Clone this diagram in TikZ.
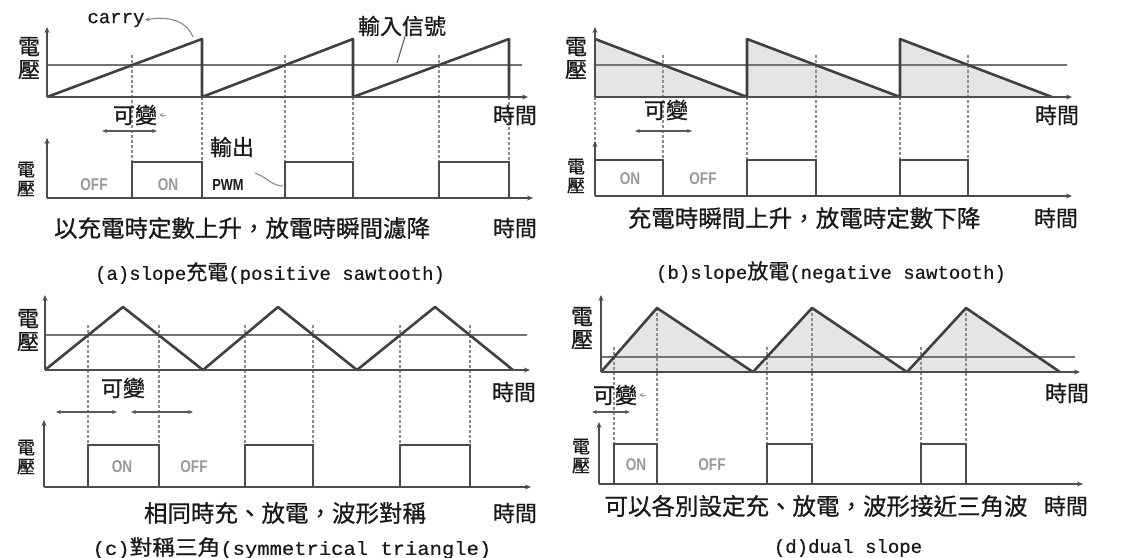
\documentclass[tikz,border=0pt]{standalone}
\usepackage{fontspec}
\setmainfont{Liberation Sans}
\newfontfamily\cjk{Noto Sans CJK TC}[FakeBold=0.7]
\newfontfamily\monof{Liberation Mono}[FakeBold=0.4]
\newcommand\subcjk[1]{{\cjk\fontsize{21}{19}\selectfont #1}}
\usetikzlibrary{arrows.meta}
\tikzset{
  wave/.style={line width=2.6pt, draw=black!75, line join=round},
  sig/.style={line width=2pt, draw=black!55},
  axisline/.style={line width=2pt, draw=black!70, -{Stealth[length=6pt,width=5pt]}},
  guide/.style={line width=1.5pt, draw=black!45, dash pattern=on 2.5pt off 2.5pt},
  pulse/.style={line width=2pt, draw=black!70, line join=miter},
  shadefill/.style={fill=black!10},
  spanarrow/.style={line width=1.2pt, draw=black!65, {Stealth[length=5pt,width=4pt]}-{Stealth[length=5pt,width=4pt]}},
  pointer/.style={line width=1pt, draw=black!50, -{Stealth[length=5pt,width=4pt]}},
  lbl/.style={inner sep=0pt, text=black!90, font=\cjk\fontsize{22}{22}\selectfont},
  captext/.style={inner sep=0pt, text=black!90, font=\cjk\fontsize{23.5}{24}\selectfont},
  ylbl/.style={inner sep=0pt, align=center, text=black!90, font=\cjk\fontsize{22}{23}\selectfont},
  ylbls/.style={inner sep=0pt, align=center, text=black!90, font=\cjk\fontsize{18}{19}\selectfont},
  subcap/.style={inner sep=0pt, text=black!90, font=\monof\fontsize{19}{19}\selectfont},
  onoff/.style={inner sep=0pt, text=black!40, font=\bfseries\fontsize{17}{17}\selectfont},
}
\begin{document}
\begin{tikzpicture}[x=1pt,y=-1pt]
\fill[white] (0,0) rectangle (1145,557);
\useasboundingbox (0,0) rectangle (1145,557);

% ===================== (a) positive sawtooth =====================
\foreach \x/\y in {132/55,202/97,285/55,353/97,439/55,509/97}
  \draw[guide] (\x,\y) -- (\x,162);
\draw[sig] (47,65) -- (522,65);
\draw[wave] (47,97) -- (202,39) -- (202,97) -- (353,39) -- (353,97) -- (509,39) -- (509,97);
\draw[axisline] (47,97) -- (47,27);
\draw[axisline] (47,97) -- (528,97);
\draw[pulse] (132,198) -- (132,162) -- (202,162) -- (202,198);
\draw[pulse] (285,198) -- (285,162) -- (353,162) -- (353,198);
\draw[pulse] (439,198) -- (439,162) -- (509,162) -- (509,198);
\draw[axisline] (47,198) -- (47,138);
\draw[axisline] (47,198) -- (533,198);
\node[ylbl] (aV1) at (29,58) {電\\壓};
\node[ylbls] (aV2) at (26,179) {電\\壓};
\node[subcap] (carry) at (116,20) {carry};
\coordinate (aPeak) at (193,37);
\draw[pointer] (aPeak) .. controls (188,24) and (174,15) .. (carry.east);
\node[lbl] (aIn) at (402,26) {輸入信號};
\coordinate (aInTip) at (397,63);
\draw[line width=1.2pt, black!60] ([xshift=3pt]aIn.south) -- (aInTip);
\node[lbl] (aT1) at (515,115) {時間};
\node[lbl] (aVar) at (135,115) {可變};
\draw[-{Stealth[length=4pt,width=4pt]}, black!40, line width=0.8pt] ([xshift=9pt]aVar.east) -- ([xshift=2pt]aVar.east);
\draw[spanarrow] (102,131) -- (157,131);
\node[lbl] (aOut) at (232,147) {輸出};
\node[inner sep=0pt, text=black!90, font=\bfseries\fontsize{16}{16}\selectfont] (aPwm) at (228,185) {\scalebox{0.8}[1]{PWM}};
\coordinate (aPwmTip) at (283,186);
\draw[line width=1pt, black!50] (255,173) .. controls (268,178) and (272,186) .. (aPwmTip);
\node[onoff] (aOff) at (94,185) {\scalebox{0.8}[1]{OFF}};
\node[onoff] (aOn) at (168,185) {\scalebox{0.8}[1]{ON}};
\node[captext] (aCap) at (242,228) {以充電時定數上升，放電時瞬間濾降};
\node[lbl] (aT2) at (515,228) {時間};
\node[subcap] (aSub) at (270,273) {(a)slope\subcjk{充電}(positive sawtooth)};

% ===================== (b) negative sawtooth =====================
\fill[shadefill] (595,39) -- (747,97) -- (595,97) -- cycle;
\fill[shadefill] (747,39) -- (900,97) -- (747,97) -- cycle;
\fill[shadefill] (900,39) -- (1052,97) -- (900,97) -- cycle;
\foreach \x/\y in {595/97,663/55,747/97,816/55,900/97,968/55}
  \draw[guide] (\x,\y) -- (\x,160);
\draw[sig] (595,65) -- (1067,65);
\draw[wave] (595,39) -- (747,97) -- (747,39) -- (900,97) -- (900,39) -- (1052,97);
\draw[axisline] (595,97) -- (595,27);
\draw[axisline] (595,97) -- (1072,97);
\draw[pulse] (595,160) -- (663,160) -- (663,196);
\draw[pulse] (747,196) -- (747,160) -- (816,160) -- (816,196);
\draw[pulse] (900,196) -- (900,160) -- (968,160) -- (968,196);
\draw[axisline] (595,196) -- (595,141);
\draw[axisline] (595,196) -- (1072,196);
\node[ylbl] (bV1) at (576,58) {電\\壓};
\node[ylbls] (bV2) at (576,176) {電\\壓};
\node[lbl] (bT1) at (1057,115) {時間};
\node[lbl] (bVar) at (666,110) {可變};
\draw[spanarrow] (635,131) -- (692,131);
\node[onoff] (bOn) at (630,179) {\scalebox{0.8}[1]{ON}};
\node[onoff] (bOff) at (703,179) {\scalebox{0.8}[1]{OFF}};
\node[captext] (bCap) at (804,218) {充電時瞬間上升，放電時定數下降};
\node[lbl] (bT2) at (1056,218) {時間};
\node[subcap] (bSub) at (831,272) {(b)slope\subcjk{放電}(negative sawtooth)};

% ===================== (c) symmetrical triangle =====================
\foreach \x in {88,159,245,313,400,470}
  \draw[guide] (\x,325) -- (\x,445);
\draw[sig] (45,335) -- (527,335);
\draw[wave] (45,370) -- (123,307) -- (203,370) -- (278,307) -- (357,370) -- (435,307) -- (513,370);
\draw[axisline] (45,370) -- (45,295);
\draw[axisline] (45,370) -- (530,370);
\draw[pulse] (88,487) -- (88,445) -- (159,445) -- (159,487);
\draw[pulse] (245,487) -- (245,445) -- (313,445) -- (313,487);
\draw[pulse] (400,487) -- (400,445) -- (470,445) -- (470,487);
\draw[axisline] (44,487) -- (44,420);
\draw[axisline] (44,487) -- (531,487);
\node[ylbl] (cV1) at (28,330) {電\\壓};
\node[ylbls] (cV2) at (26,457) {電\\壓};
\node[lbl] (cT1) at (514,392) {時間};
\node[lbl] (cVar) at (123,388) {可變};
\draw[spanarrow] (56,412) -- (117,412);
\draw[spanarrow] (131,412) -- (193,412);
\node[onoff] (cOn) at (122,467) {\scalebox{0.8}[1]{ON}};
\node[onoff] (cOff) at (194,467) {\scalebox{0.8}[1]{OFF}};
\node[captext] (cCap) at (285,513) {相同時充、放電，波形對稱};
\node[lbl] (cT2) at (515,513) {時間};
\node[subcap] (cSub) at (292,548) {\scalebox{1.08}[1]{(c)\subcjk{對稱三角}(symmetrical triangle)}};

% ===================== (d) dual slope =====================
\fill[shadefill] (601,372) -- (657,308) -- (753,372) -- (812,308) -- (907,372) -- (966,308) -- (1060,372) -- cycle;
\foreach \x/\y in {614/347,657/308,767/347,812/308,921/347,966/308}
  \draw[guide] (\x,\y) -- (\x,444);
\draw[sig] (601,357) -- (1075,357);
\draw[wave] (601,372) -- (657,308) -- (753,372) -- (812,308) -- (907,372) -- (966,308) -- (1060,372);
\draw[axisline] (601,372) -- (601,295);
\draw[axisline] (601,372) -- (1080,372);
\draw[pulse] (614,484) -- (614,444) -- (657,444) -- (657,484);
\draw[pulse] (767,484) -- (767,444) -- (812,444) -- (812,484);
\draw[pulse] (921,484) -- (921,444) -- (966,444) -- (966,484);
\draw[axisline] (599,484) -- (599,422);
\draw[axisline] (599,484) -- (1083,484);
\node[ylbl] (dV1) at (582,328) {電\\壓};
\node[ylbls] (dV2) at (581,456) {電\\壓};
\node[lbl] (dT1) at (1067,393) {時間};
\node[lbl] (dVar) at (615,395) {可變};
\draw[-{Stealth[length=4pt,width=4pt]}, black!40, line width=0.8pt] ([xshift=9pt]dVar.east) -- ([xshift=2pt]dVar.east);
\draw[spanarrow] (592,412) -- (630,412);
\node[onoff] (dOn) at (636,465) {\scalebox{0.8}[1]{ON}};
\node[onoff] (dOff) at (712,465) {\scalebox{0.8}[1]{OFF}};
\node[captext] (dCap) at (816,506) {可以各別設定充、放電，波形接近三角波};
\node[lbl] (dT2) at (1066,506) {時間};
\node[subcap] (dSub) at (848,548) {(d)dual slope};
\end{tikzpicture}
\end{document}
